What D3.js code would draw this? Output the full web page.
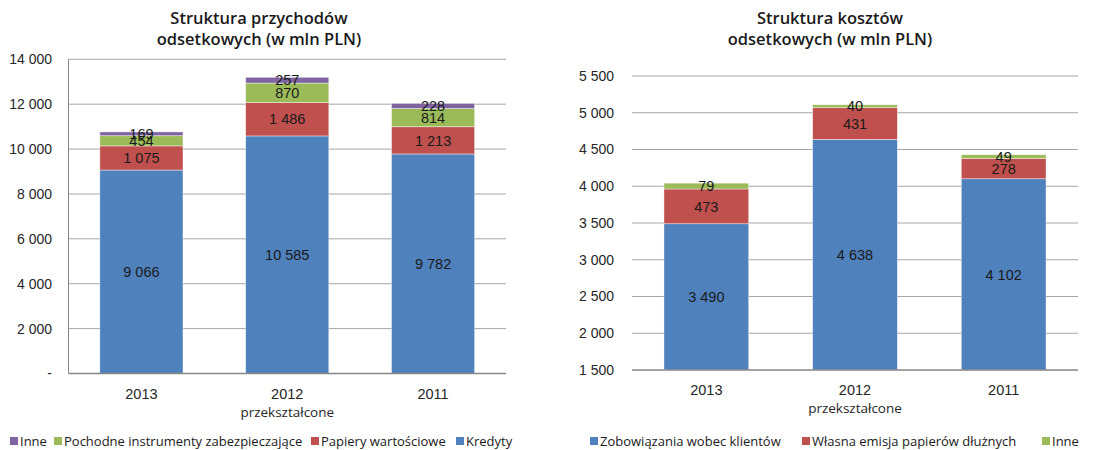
<!DOCTYPE html>
<html>
<head>
<meta charset="utf-8">
<script src="https://cdn.jsdelivr.net/npm/d3@7"></script>
<style>
  body { margin: 0; background: #fff; }
  svg { display: block; }
</style>
</head>
<body>
<div id="chart"></div>
<script>
// categories and values
const categories = ["2013", "2012", "2011"];
const subLabels = ["", "przekształcone", ""];

// left chart: income structure
const kredyty = [9066, 10585, 9782];
const papiery = [1075, 1486, 1213];
const pochodne = [454, 870, 814];
const inneIncome = [169, 257, 228];
const incomeTicks = [0, 2000, 4000, 6000, 8000, 10000, 12000, 14000];

// right chart: cost structure
const zobowiazania = [3490, 4638, 4102];
const wlasnaEmisja = [473, 431, 278];
const inneCost = [79, 40, 49];
const costTicks = [1500, 2000, 2500, 3000, 3500, 4000, 4500, 5000, 5500];

const colors = { blue: "#4f81bd", red: "#c0504d", green: "#9bbb59", purple: "#8064a2" };

const numFmt = d3.formatLocale({ decimal: ",", thousands: "\u00a0", grouping: [3], currency: ["", ""] }).format(",d");
const fmt = v => numFmt(v).replace(/\u00a0/g, " ");

const numFont = "'Liberation Sans', Arial, sans-serif";
const txtFont = "'Open Sans', 'Noto Sans', sans-serif";

const svg = d3.select("#chart").append("svg")
    .attr("width", 1117)
    .attr("height", 450);

const drawPanel = (opt) => {
    const g = svg.append("g");
    const x = d3.scaleBand().domain(categories).range([opt.left, opt.right]).paddingInner(0.43).paddingOuter(0.215);
    const y = d3.scaleLinear().domain(opt.domain).range([opt.bottom, opt.top]);

    // gridlines
    g.selectAll("line.grid")
        .data(opt.ticks.slice(1))
        .join("line")
        .attr("x1", opt.left).attr("x2", opt.right)
        .attr("y1", d => y(d)).attr("y2", d => y(d))
        .attr("stroke", "#a6a6a6").attr("stroke-width", 1);

    // tick labels
    g.selectAll("text.tick")
        .data(opt.ticks)
        .join("text")
        .attr("x", opt.labelX)
        .attr("y", d => y(d))
        .attr("dy", "0.35em")
        .attr("text-anchor", "end")
        .attr("font-family", numFont)
        .attr("font-size", 14)
        .attr("fill", "#262626")
        .text(d => (d === 0 ? "-" : fmt(d)));

    if (opt.yAxisLine) {
        g.append("line")
            .attr("x1", opt.left).attr("x2", opt.left)
            .attr("y1", y(opt.domain[1])).attr("y2", opt.bottom)
            .attr("stroke", "#888").attr("stroke-width", 1);
    }

    // stacked bars
    const rows = categories.map((c, i) => {
        const r = { cat: c };
        opt.series.forEach(s => { r[s.key] = s.values[i]; });
        return r;
    });
    const stack = d3.stack().keys(opt.series.map(s => s.key))(rows);
    const base = opt.domain[0];

    stack.forEach((layer, li) => {
        const s = opt.series[li];
        g.selectAll(null)
            .data(layer)
            .join("rect")
            .attr("x", d => x(d.data.cat))
            .attr("width", x.bandwidth())
            .attr("y", d => y(d[1]))
            .attr("height", d => y(Math.max(d[0], base)) - y(d[1]))
            .attr("fill", s.color)
            .attr("stroke", "#fff")
            .attr("stroke-opacity", 0.6)
            .attr("stroke-width", 0.7);
    });

    stack.forEach((layer) => {
        g.selectAll(null)
            .data(layer)
            .join("text")
            .attr("x", d => x(d.data.cat) + x.bandwidth() / 2)
            .attr("y", d => (y(Math.max(d[0], base)) + y(d[1])) / 2)
            .attr("dy", "0.36em")
            .attr("text-anchor", "middle")
            .attr("font-family", numFont)
            .attr("font-size", 14.5)
            .attr("fill", "#1a1a1a")
            .text(d => fmt(d[1] - d[0]));
    });

    // bottom axis line
    g.append("line")
        .attr("x1", opt.left).attr("x2", opt.right)
        .attr("y1", opt.bottom).attr("y2", opt.bottom)
        .attr("stroke", "#868686").attr("stroke-width", 1.5);

    // category labels
    g.selectAll("text.cat")
        .data(categories)
        .join("text")
        .attr("x", d => x(d) + x.bandwidth() / 2)
        .attr("y", opt.bottom + 25)
        .attr("text-anchor", "middle")
        .attr("font-family", numFont)
        .attr("font-size", 14.5)
        .attr("fill", "#262626")
        .text(d => d);

    g.selectAll("text.sub")
        .data(categories)
        .join("text")
        .attr("x", d => x(d) + x.bandwidth() / 2)
        .attr("y", opt.bottom + 43)
        .attr("text-anchor", "middle")
        .attr("font-family", txtFont)
        .attr("font-size", 13.5)
        .attr("fill", "#262626")
        .text((d, i) => subLabels[i]);

    // title
    const title = g.append("text")
        .attr("x", opt.titleX)
        .attr("y", 24)
        .attr("text-anchor", "middle")
        .attr("font-family", txtFont)
        .attr("font-weight", 600)
        .attr("font-size", 16.5)
        .attr("fill", "#1a1a1a");
    opt.title.forEach((t, i) => {
        title.append("tspan").attr("x", opt.titleX).attr("dy", i === 0 ? 0 : 21).text(t);
    });

    // legend
    const leg = g.selectAll("g.leg")
        .data(opt.legend)
        .join("g")
        .attr("transform", d => `translate(${d.x},441)`);
    leg.append("rect")
        .attr("x", 0).attr("y", -4)
        .attr("width", 8).attr("height", 8)
        .attr("fill", d => d.color);
    leg.append("text")
        .attr("x", 10)
        .attr("y", 0)
        .attr("dy", "0.35em")
        .attr("font-family", txtFont)
        .attr("font-size", 13)
        .attr("fill", "#1a1a1a")
        .text(d => d.label);
};

drawPanel({
    left: 68.5, right: 506, top: 59.3, bottom: 373.5,
    domain: [0, 14000], ticks: incomeTicks, labelX: 52, yAxisLine: true,
    titleX: 259,
    title: ["Struktura przychodów", "odsetkowych (w mln PLN)"],
    series: [
        { key: "Kredyty", values: kredyty, color: colors.blue },
        { key: "Papiery wartościowe", values: papiery, color: colors.red },
        { key: "Pochodne instrumenty zabezpieczające", values: pochodne, color: colors.green },
        { key: "Inne", values: inneIncome, color: colors.purple }
    ],
    legend: [
        { label: "Inne", color: colors.purple, x: 10 },
        { label: "Pochodne instrumenty zabezpieczające", color: colors.green, x: 54 },
        { label: "Papiery wartościowe", color: colors.red, x: 311 },
        { label: "Kredyty", color: colors.blue, x: 456 }
    ]
});

drawPanel({
    left: 632, right: 1078, top: 76, bottom: 370,
    domain: [1500, 5500], ticks: costTicks, labelX: 614, yAxisLine: false,
    titleX: 830,
    title: ["Struktura kosztów", "odsetkowych (w mln PLN)"],
    series: [
        { key: "Zobowiązania wobec klientów", values: zobowiazania, color: colors.blue },
        { key: "Własna emisja papierów dłużnych", values: wlasnaEmisja, color: colors.red },
        { key: "Inne", values: inneCost, color: colors.green }
    ],
    legend: [
        { label: "Zobowiązania wobec klientów", color: colors.blue, x: 590 },
        { label: "Własna emisja papierów dłużnych", color: colors.red, x: 802 },
        { label: "Inne", color: colors.green, x: 1042 }
    ]
});
</script>
</body>
</html>
